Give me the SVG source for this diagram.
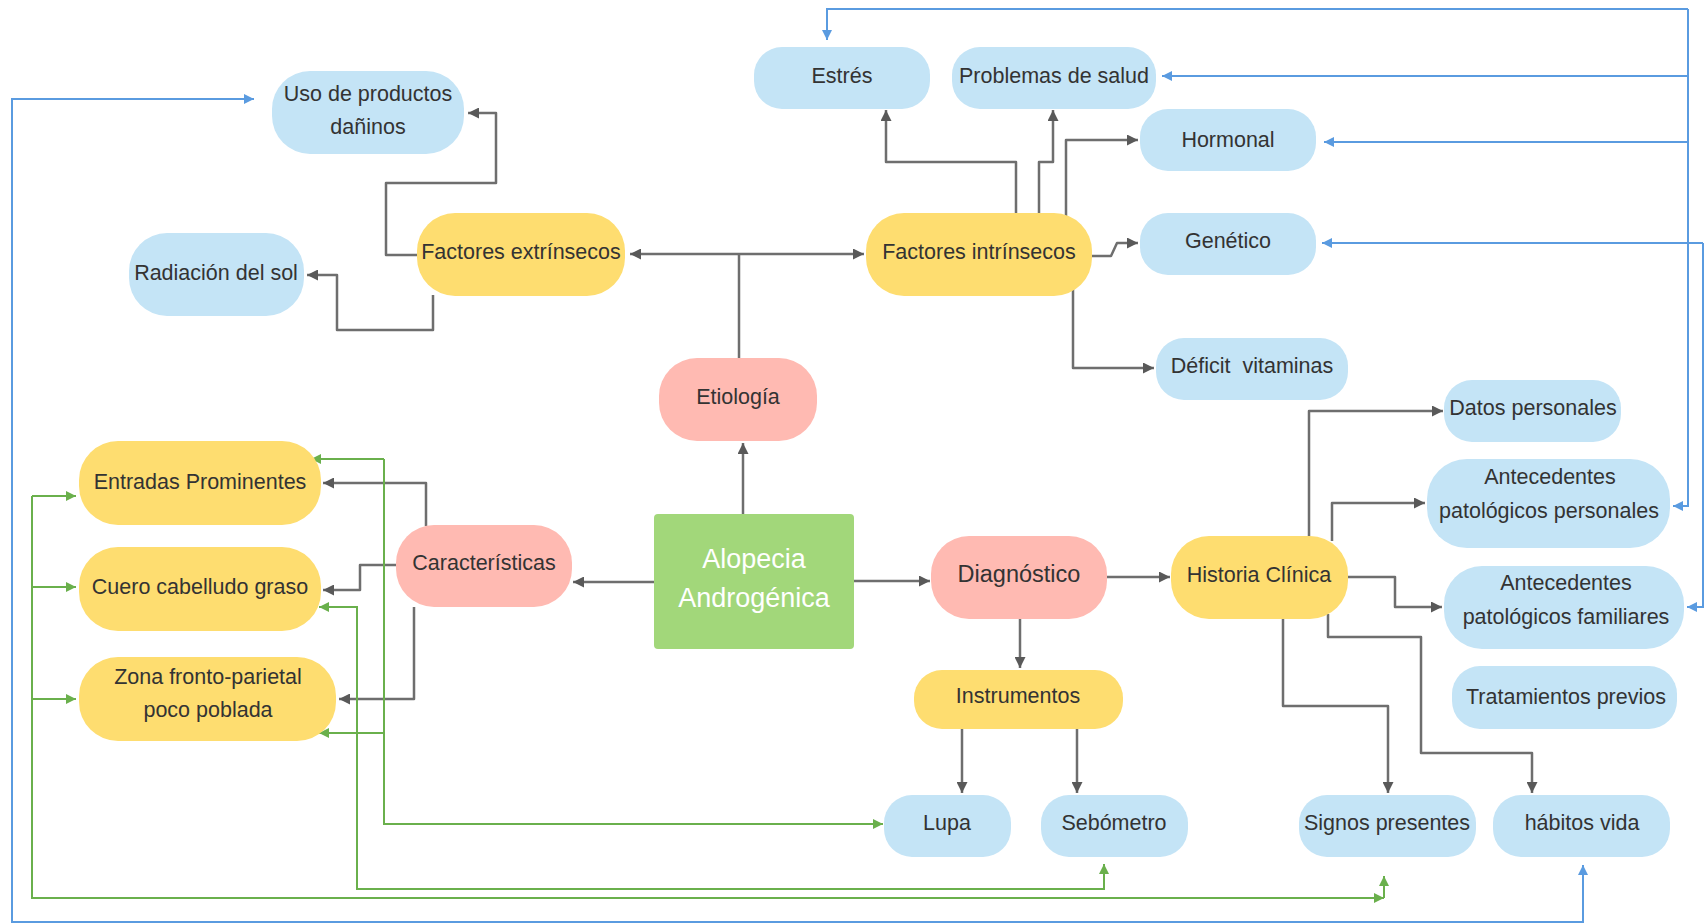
<svg xmlns="http://www.w3.org/2000/svg" width="1704" height="924" viewBox="0 0 1704 924">
<defs>
<style>
.b{fill:#c4e4f6}
.y{fill:#fedd70}
.p{fill:#ffbab2}
.g{fill:#a2d77a}
text{font-family:"Liberation Sans",Arial,sans-serif;font-size:21.5px;fill:#333333;text-anchor:middle}
.gl{fill:none;stroke:#6e6e6e;stroke-width:2.5;stroke-linejoin:round}
.bl{fill:none;stroke:#5a9be0;stroke-width:2}
.gr{fill:none;stroke:#6ab04c;stroke-width:2}
</style>
<marker id="ag" viewBox="0 0 10 10" refX="10" refY="5" markerWidth="11" markerHeight="11" markerUnits="userSpaceOnUse" orient="auto-start-reverse"><path d="M0,0 L10,5 L0,10 z" fill="#595959"/></marker>
<marker id="ab" viewBox="0 0 10 10" refX="10" refY="5" markerWidth="10" markerHeight="10" markerUnits="userSpaceOnUse" orient="auto-start-reverse"><path d="M0,0 L10,5 L0,10 z" fill="#5a9be0"/></marker>
<marker id="an" viewBox="0 0 10 10" refX="10" refY="5" markerWidth="10" markerHeight="10" markerUnits="userSpaceOnUse" orient="auto-start-reverse"><path d="M0,0 L10,5 L0,10 z" fill="#6ab04c"/></marker>
</defs>
<rect width="1704" height="924" fill="#ffffff"/>
<g id="connectors">
<path class="gl" d="M417,255 H386 V183 H496 V113 H468" marker-end="url(#ag)"/>
<path class="gl" d="M433,295 V330 H337 V275 H307" marker-end="url(#ag)"/>
<path class="gl" d="M739,359 V254"/>
<path class="gl" d="M739,254 H630" marker-end="url(#ag)"/>
<path class="gl" d="M739,254 H864" marker-end="url(#ag)"/>
<path class="gl" d="M1016,213 V162 H886 V110" marker-end="url(#ag)"/>
<path class="gl" d="M1039,213 V162 H1053 V110" marker-end="url(#ag)"/>
<path class="gl" d="M1066,218 V140 H1138" marker-end="url(#ag)"/>
<path class="gl" d="M1092,256 H1111 L1117,243 H1138" marker-end="url(#ag)"/>
<path class="gl" d="M1073,288 V368 H1154" marker-end="url(#ag)"/>
<path class="gl" d="M743,514 V443" marker-end="url(#ag)"/>
<path class="gl" d="M654,582 H573" marker-end="url(#ag)"/>
<path class="gl" d="M426,526 V483 H323" marker-end="url(#ag)"/>
<path class="gl" d="M396,565 H360 V590 H323" marker-end="url(#ag)"/>
<path class="gl" d="M414,607 V699 H339" marker-end="url(#ag)"/>
<path class="gl" d="M854,581 H930" marker-end="url(#ag)"/>
<path class="gl" d="M1107,577 H1170" marker-end="url(#ag)"/>
<path class="gl" d="M1020,619 V668" marker-end="url(#ag)"/>
<path class="gl" d="M962,729 V793" marker-end="url(#ag)"/>
<path class="gl" d="M1077,729 V793" marker-end="url(#ag)"/>
<path class="gl" d="M1309,536 V411 H1443" marker-end="url(#ag)"/>
<path class="gl" d="M1332,541 V503 H1425" marker-end="url(#ag)"/>
<path class="gl" d="M1348,577 H1395 V607 H1442" marker-end="url(#ag)"/>
<path class="gl" d="M1283,619 V706 H1388 V793" marker-end="url(#ag)"/>
<path class="gl" d="M1328,614 V637 H1421 V753 H1532 V793" marker-end="url(#ag)"/>
<path class="bl" d="M1688,9 H827 V40" marker-end="url(#ab)"/>
<path class="bl" d="M1688,76 H1162" marker-end="url(#ab)"/>
<path class="bl" d="M1688,142 H1324" marker-end="url(#ab)"/>
<path class="bl" d="M1688,9 V506 H1673" marker-end="url(#ab)"/>
<path class="bl" d="M1703,243 H1322" marker-end="url(#ab)"/>
<path class="bl" d="M1703,243 V607 H1687" marker-end="url(#ab)"/>
<path class="bl" d="M254,99 H12 V922 H1583 V865" marker-start="url(#ab)" marker-end="url(#ab)"/>
<path class="gr" d="M384,459 V824 H883" marker-end="url(#an)"/>
<path class="gr" d="M384,459 H311" marker-end="url(#an)"/>
<path class="gr" d="M384,733 H319" marker-end="url(#an)"/>
<path class="gr" d="M1104,864 V889 H357 V607 H319" marker-start="url(#an)" marker-end="url(#an)"/>
<path class="gr" d="M32,496 H76" marker-end="url(#an)"/>
<path class="gr" d="M32,587 H76" marker-end="url(#an)"/>
<path class="gr" d="M32,699 H76" marker-end="url(#an)"/>
<path class="gr" d="M32,496 V898 H1384" marker-end="url(#an)"/>
<path class="gr" d="M1384,898 V876" marker-end="url(#an)"/>
</g>
<g id="n-estres"><rect class="b" x="754" y="47" width="176" height="62" rx="28"/><text x="842" y="83">Estrés</text></g>
<g id="n-problemas"><rect class="b" x="952" y="47" width="204" height="62" rx="28"/><text x="1054" y="83">Problemas de salud</text></g>
<g id="n-hormonal"><rect class="b" x="1140" y="109" width="176" height="62" rx="28"/><text x="1228" y="147">Hormonal</text></g>
<g id="n-genetico"><rect class="b" x="1140" y="213" width="176" height="62" rx="28"/><text x="1228" y="248">Genético</text></g>
<g id="n-deficit"><rect class="b" x="1156" y="338" width="192" height="62" rx="28"/><text x="1252" y="373" xml:space="preserve">Déficit  vitaminas</text></g>
<g id="n-uso"><rect class="b" x="272" y="71" width="192" height="83" rx="38"/><text x="368" y="101">Uso de productos</text><text x="368" y="134">dañinos</text></g>
<g id="n-radiacion"><rect class="b" x="129" y="233" width="175" height="83" rx="38"/><text x="216" y="280">Radiación del sol</text></g>
<g id="n-fext"><rect class="y" x="417" y="213" width="208" height="83" rx="38"/><text x="521" y="259">Factores extrínsecos</text></g>
<g id="n-fint"><rect class="y" x="866" y="213" width="226" height="83" rx="38"/><text x="979" y="259">Factores intrínsecos</text></g>
<g id="n-etiologia"><rect class="p" x="659" y="358" width="158" height="83" rx="38"/><text x="738" y="404">Etiología</text></g>
<g id="n-alopecia"><rect class="g" x="654" y="514" width="200" height="135" rx="4"/><text x="754" y="568" style="font-size:27px;fill:#ffffff">Alopecia</text><text x="754" y="607" style="font-size:27px;fill:#ffffff">Androgénica</text></g>
<g id="n-caracteristicas"><rect class="p" x="396" y="525" width="176" height="82" rx="38"/><text x="484" y="570">Características</text></g>
<g id="n-entradas"><rect class="y" x="79" y="441" width="242" height="84" rx="39"/><text x="200" y="489">Entradas Prominentes</text></g>
<g id="n-cuero"><rect class="y" x="79" y="547" width="242" height="84" rx="39"/><text x="200" y="594">Cuero cabelludo graso</text></g>
<g id="n-zona"><rect class="y" x="79" y="657" width="257" height="84" rx="39"/><text x="208" y="684">Zona fronto-parietal</text><text x="208" y="717">poco poblada</text></g>
<g id="n-diagnostico"><rect class="p" x="931" y="536" width="176" height="83" rx="38"/><text x="1019" y="582" style="font-size:23.5px">Diagnóstico</text></g>
<g id="n-historia"><rect class="y" x="1171" y="536" width="177" height="83" rx="38"/><text x="1259" y="582">Historia Clínica</text></g>
<g id="n-instrumentos"><rect class="y" x="914" y="670" width="209" height="59" rx="28"/><text x="1018" y="703">Instrumentos</text></g>
<g id="n-lupa"><rect class="b" x="884" y="795" width="127" height="62" rx="28"/><text x="947" y="830">Lupa</text></g>
<g id="n-sebometro"><rect class="b" x="1041" y="795" width="147" height="62" rx="28"/><text x="1114" y="830">Sebómetro</text></g>
<g id="n-signos"><rect class="b" x="1299" y="795" width="177" height="62" rx="28"/><text x="1387" y="830">Signos presentes</text></g>
<g id="n-habitos"><rect class="b" x="1493" y="795" width="177" height="62" rx="28"/><text x="1582" y="830">hábitos vida</text></g>
<g id="n-datos"><rect class="b" x="1444" y="380" width="177" height="62" rx="28"/><text x="1533" y="415">Datos personales</text></g>
<g id="n-antpers"><rect class="b" x="1427" y="459" width="243" height="89" rx="40"/><text x="1550" y="484">Antecedentes</text><text x="1549" y="518">patológicos personales</text></g>
<g id="n-antfam"><rect class="b" x="1444" y="566" width="240" height="83" rx="38"/><text x="1566" y="590">Antecedentes</text><text x="1566" y="624">patológicos familiares</text></g>
<g id="n-tratamientos"><rect class="b" x="1452" y="666" width="225" height="63" rx="28"/><text x="1566" y="704">Tratamientos previos</text></g>
</svg>
